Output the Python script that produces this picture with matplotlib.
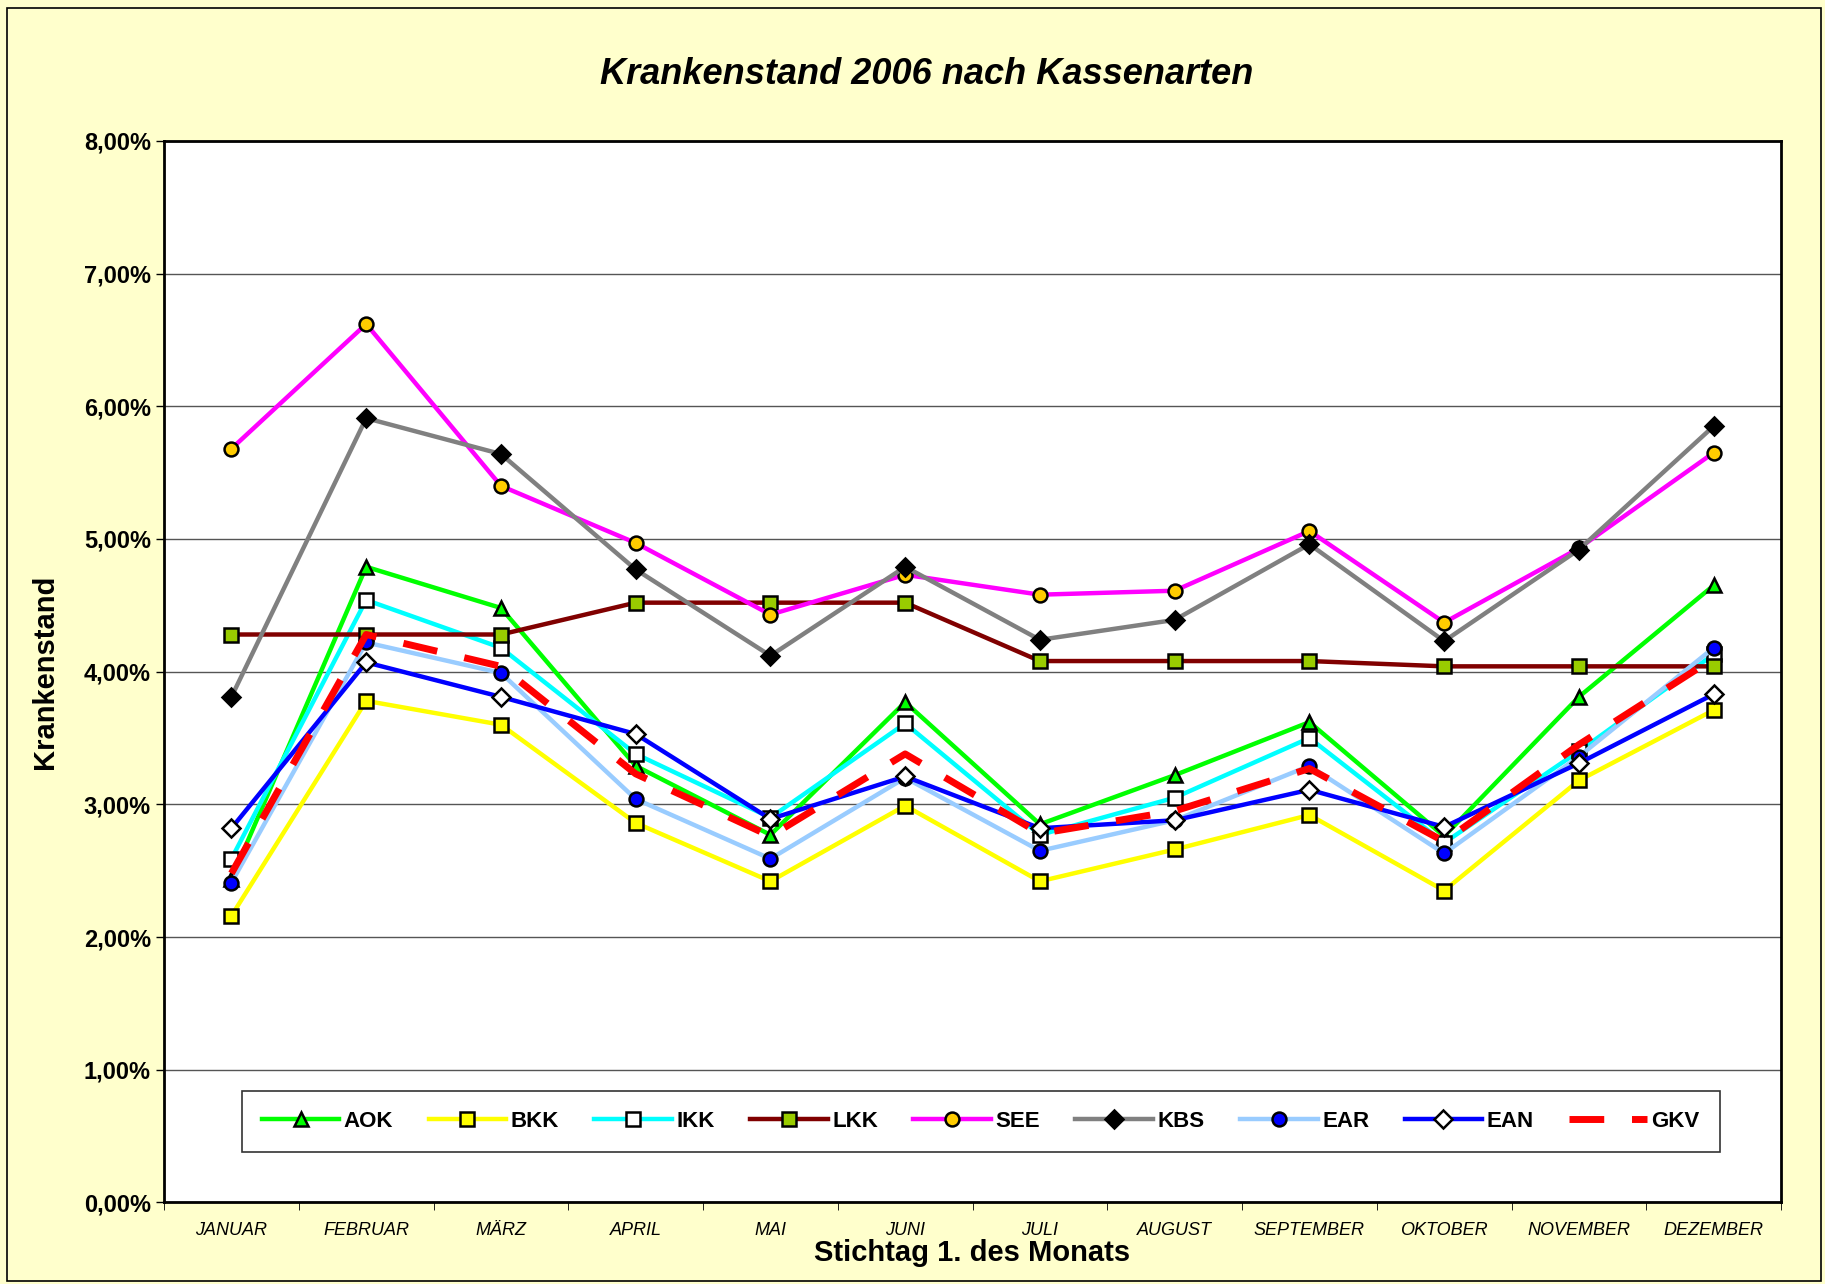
import matplotlib.pyplot as plt
import numpy as np
from matplotlib.ticker import FixedLocator, FuncFormatter

plt.rcParams['font.family'] = ['Liberation Sans', 'DejaVu Sans']

months = ["JANUAR", "FEBRUAR", "MÄRZ", "APRIL", "MAI", "JUNI", "JULI",
          "AUGUST", "SEPTEMBER", "OKTOBER", "NOVEMBER", "DEZEMBER"]

# Krankenstand in % per Kassenart
aok = [2.44, 4.79, 4.48, 3.29, 2.77, 3.77, 2.85, 3.22, 3.62, 2.76, 3.81, 4.65]
bkk = [2.16, 3.78, 3.60, 2.86, 2.42, 2.99, 2.42, 2.66, 2.92, 2.35, 3.18, 3.71]
ikk = [2.59, 4.54, 4.18, 3.38, 2.90, 3.61, 2.77, 3.05, 3.50, 2.71, 3.40, 4.13]
lkk = [4.28, 4.28, 4.28, 4.52, 4.52, 4.52, 4.08, 4.08, 4.08, 4.04, 4.04, 4.04]
see = [5.68, 6.62, 5.40, 4.97, 4.43, 4.73, 4.58, 4.61, 5.06, 4.37, 4.93, 5.65]
kbs = [3.81, 5.91, 5.64, 4.77, 4.12, 4.79, 4.24, 4.39, 4.96, 4.23, 4.92, 5.85]
ear = [2.41, 4.22, 3.99, 3.04, 2.59, 3.20, 2.65, 2.88, 3.29, 2.63, 3.36, 4.18]
ean = [2.82, 4.07, 3.81, 3.53, 2.89, 3.21, 2.82, 2.88, 3.11, 2.83, 3.31, 3.83]
gkv = [2.48, 4.28, 4.04, 3.23, 2.76, 3.38, 2.78, 2.95, 3.27, 2.72, 3.45, 4.10]

fig = plt.figure(figsize=(18.25, 12.84), dpi=100, facecolor="#FFFFCC")
fig.patches.append(plt.Rectangle((0.004, 0.002), 0.994, 0.992, transform=fig.transFigure,
                                 fill=False, edgecolor="black", linewidth=1.2))
ax = fig.add_axes([0.0899, 0.0635, 0.886, 0.8268])
ax.set_facecolor("white")

x = np.arange(len(months))
lw = 3.2
ms = 10
ax.plot(x, aok, color="#00FF00", lw=lw, marker="^", ms=ms, mfc="#00FF00", mec="black", mew=1.8, label="AOK", zorder=3)
ax.plot(x, bkk, color="#FFFF00", lw=lw, marker="s", ms=ms, mfc="#FFFF00", mec="black", mew=1.8, label="BKK", zorder=3)
ax.plot(x, ikk, color="#00FFFF", lw=lw, marker="s", ms=ms, mfc="white", mec="black", mew=1.8, label="IKK", zorder=3)
ax.plot(x, lkk, color="#800000", lw=lw, marker="s", ms=ms, mfc="#99CC00", mec="black", mew=1.8, label="LKK", zorder=3)
ax.plot(x, see, color="#FF00FF", lw=lw, marker="o", ms=ms, mfc="#FFCC00", mec="black", mew=1.8, label="SEE", zorder=3)
ax.plot(x, kbs, color="#808080", lw=lw, marker="D", ms=ms - 1, mfc="black", mec="black", mew=1.8, label="KBS", zorder=3)
ax.plot(x, ear, color="#99CCFF", lw=lw, marker="o", ms=ms, mfc="#0000FF", mec="black", mew=1.8, label="EAR", zorder=3)
ax.plot(x, ean, color="#0000FF", lw=lw, marker="D", ms=ms - 1, mfc="white", mec="black", mew=1.8, label="EAN", zorder=3)
ax.plot(x, gkv, color="#FF0000", lw=5, ls=(0, (5, 4)), label="GKV", zorder=4)

ax.set_xlim(-0.5, 11.5)
ax.set_ylim(0, 8)
ax.set_yticks(np.arange(0, 9, 1))
ax.yaxis.set_major_formatter(FuncFormatter(lambda v, p: f"{v:.2f}%".replace(".", ",")))
ax.grid(axis="y", color="#555555", lw=1)
ax.set_axisbelow(True)

ax.set_xticks(x)
ax.set_xticklabels(months, fontstyle="italic", fontsize=13)
ax.xaxis.set_minor_locator(FixedLocator(np.arange(-0.5, 12, 1)))
ax.tick_params(axis="x", which="major", length=0, pad=14)
ax.tick_params(axis="x", which="minor", length=6, direction="out")
ax.tick_params(axis="y", length=6, labelsize=17, width=1)
for t in ax.get_yticklabels():
    t.set_fontweight("bold")

for s in ax.spines.values():
    s.set_linewidth(2)
    s.set_color("black")

ax.set_ylabel("Krankenstand", fontsize=21, fontweight="bold", labelpad=18)
ax.set_xlabel("Stichtag 1. des Monats", fontsize=21, fontweight="bold", labelpad=0)
fig.text(0.508, 0.942, "Krankenstand 2006 nach Kassenarten", ha="center", va="center",
         fontsize=26, fontweight="bold", fontstyle="italic")

leg = ax.legend(loc="center", bbox_to_anchor=(0.048, 0.047, 0.914, 0.059), mode="expand",
                ncol=9, frameon=True, fancybox=False, edgecolor="black",
                handlelength=3.5, handletextpad=0.2, borderaxespad=0, borderpad=0.9,
                prop={"weight": "bold", "size": 16})
leg.get_frame().set_linewidth(1.2)

fig.savefig("out.png", dpi=100, facecolor=fig.get_facecolor())
